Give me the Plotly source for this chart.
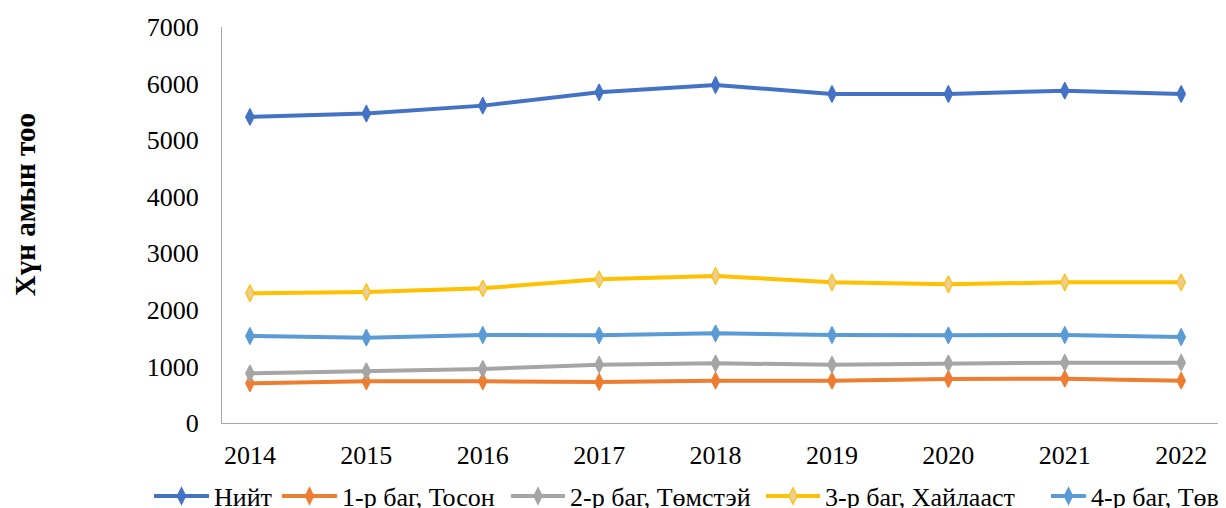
import plotly.graph_objects as go

years = [2014, 2015, 2016, 2017, 2018, 2019, 2020, 2021, 2022]
niit = [5410, 5470, 5610, 5845, 5975, 5815, 5815, 5875, 5815]
bag1 = [701, 737, 737, 725, 748, 748, 778, 784, 748]
bag2 = [878, 914, 955, 1031, 1055, 1031, 1055, 1066, 1066]
bag3 = [2293, 2316, 2381, 2540, 2599, 2487, 2452, 2487, 2487]
bag4 = [1538, 1508, 1556, 1550, 1585, 1556, 1550, 1556, 1520]

names = ["Нийт", "1-р баг, Тосон", "2-р баг, Төмстэй", "3-р баг, Хайлааст", "4-р баг, Төв"]
values = [niit, bag1, bag2, bag3, bag4]
line_colors = ["#4472C4", "#ED7D31", "#A5A5A5", "#FFC000", "#5B9BD5"]
fill_colors = ["#4472C4", "#ED7D31", "#A5A5A5", "#EDCD92", "#5B9BD5"]

# page offset of the plot div (browser body margin)
W, H = 1218, 500
font = "Liberation Serif, Times New Roman, serif"

legend_line_start = [155, 283, 512, 767, 1052]   # page px
legend_item_w = [55, 55, 54, 54, 35]

fig = go.Figure()
legend_layout = {}
for i, (name, vals, col, fill) in enumerate(zip(names, values, line_colors, fill_colors)):
    lg = "legend" if i == 0 else f"legend{i + 1}"
    fig.add_trace(go.Scatter(
        x=years, y=vals, name=name, mode="lines+markers", legend=lg,
        line=dict(color=col, width=4),
        marker=dict(symbol="diamond-tall", size=12, color=fill,
                    line=dict(color=col, width=1.2)),
    ))
    legend_layout[lg] = dict(
        orientation="h", xref="container", yref="container",
        x=(legend_line_start[i] - 8 - 6) / W, y=(H - 488) / H,
        xanchor="left", yanchor="middle",
        font=dict(size=26, family=font, color="#000000"),
        itemwidth=legend_item_w[i], bgcolor="rgba(0,0,0,0)",
    )

fig.update_layout(
    width=W, height=H,
    margin=dict(l=214, r=0, t=19, b=85, autoexpand=False),
    paper_bgcolor="white", plot_bgcolor="white",
    font=dict(family=font, size=26, color="#000000"),
    showlegend=True,
    annotations=[dict(text="<b>Хүн амын тоо</b>", textangle=-90,
                      xref="paper", yref="paper", x=(17 - 214) / 1004, y=0.55,
                      xanchor="center", yanchor="middle", showarrow=False,
                      font=dict(size=29, family=font, color="#000000"))],
    **legend_layout,
)
fig.update_xaxes(
    range=[2013.76, 2022.385], tickvals=years, ticktext=[str(y) for y in years],
    showgrid=False, zeroline=False, showline=True, linecolor="#A6A6A6", linewidth=1.3,
    ticks="", ticklabelstandoff=9, tickfont=dict(size=26, family=font),
    automargin=False,
)
fig.update_yaxes(
    range=[0, 7000], dtick=1000, showgrid=False, zeroline=False,
    showline=True, linecolor="#A6A6A6", linewidth=1.3, ticks="",
    ticklabelstandoff=17, tickfont=dict(size=26, family=font),
    automargin=False,
)
fig.write_html("out.html")
